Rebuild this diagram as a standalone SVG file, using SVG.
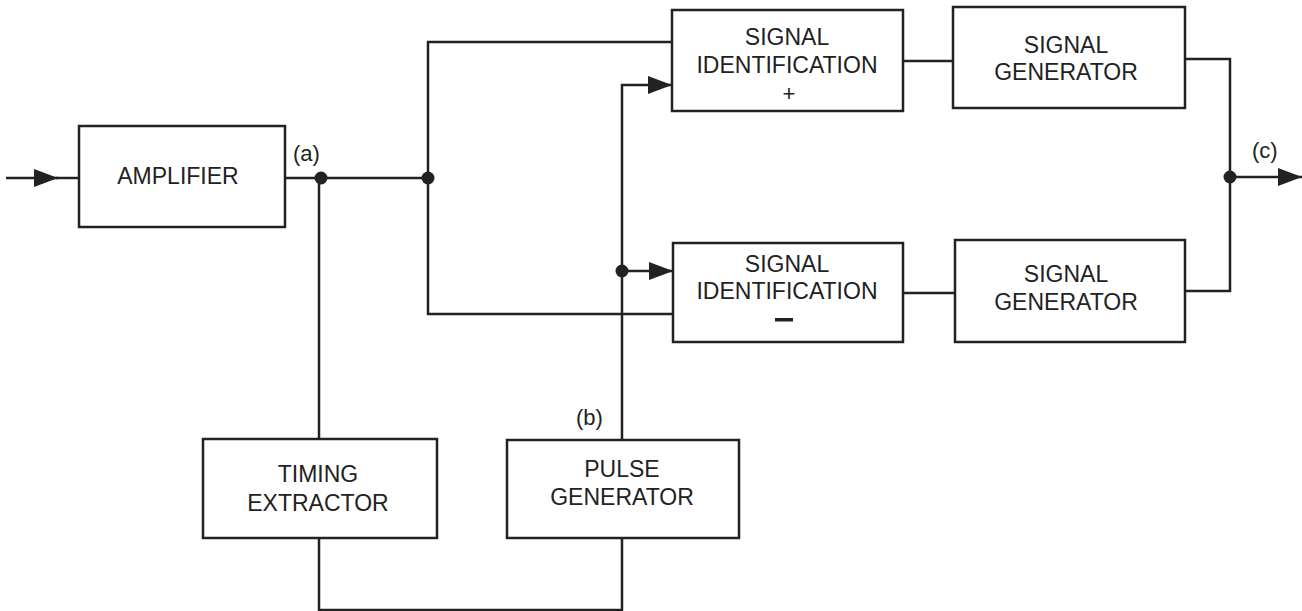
<svg xmlns="http://www.w3.org/2000/svg" width="1302" height="611" viewBox="0 0 1302 611">
<style>
.box{fill:#fff;stroke:#222;stroke-width:2.5}
.ln{fill:none;stroke:#222;stroke-width:2.5}
text{font-family:"Liberation Sans",Arial,sans-serif;font-size:23px;fill:#222;text-anchor:middle}
.lbl{font-size:22px;text-anchor:start}
.dot{fill:#222}
</style>
<defs>
<marker id="arr" viewBox="0 0 24 18" refX="24" refY="9" markerWidth="24" markerHeight="18" markerUnits="userSpaceOnUse" orient="auto">
<path d="M0,0 L24,9 L0,18 z" fill="#222"/>
</marker>
</defs>
<rect width="1302" height="611" fill="#fff"/>
<g id="connectors">
<line class="ln" x1="6" y1="178" x2="58" y2="178" marker-end="url(#arr)"/>
<line class="ln" x1="56" y1="178" x2="79" y2="178"/>
<line class="ln" x1="285" y1="178" x2="428" y2="178"/>
<polyline class="ln" points="672,42 428,42 428,314 673,314"/>
<polyline class="ln" points="319,178 319,439"/>
<polyline class="ln" points="319,538 319,610 622,610 622,538"/>
<polyline class="ln" points="622,440 622,85 672,85" marker-end="url(#arr)"/>
<line class="ln" x1="622" y1="271" x2="673" y2="271" marker-end="url(#arr)"/>
<line class="ln" x1="903" y1="61" x2="953" y2="61"/>
<line class="ln" x1="903" y1="293" x2="955" y2="293"/>
<polyline class="ln" points="1185,59 1230,59 1230,291 1185,291"/>
<line class="ln" x1="1230" y1="177" x2="1302" y2="177" marker-end="url(#arr)"/>
<circle class="dot" cx="321" cy="178" r="6.5"/>
<circle class="dot" cx="428" cy="178" r="6.5"/>
<circle class="dot" cx="622" cy="271" r="6.5"/>
<circle class="dot" cx="1230" cy="177" r="6.5"/>
<text class="lbl" x="293" y="161">(a)</text>
<text class="lbl" x="576" y="425">(b)</text>
<text class="lbl" x="1252" y="158">(c)</text>
</g>
<g id="amplifier">
<rect class="box" x="79" y="126" width="206" height="101"/>
<text x="178" y="184">AMPLIFIER</text>
</g>
<g id="sigid-plus">
<rect class="box" x="672" y="10" width="231" height="101"/>
<text x="787" y="45">SIGNAL</text>
<text x="787" y="73">IDENTIFICATION</text>
<text x="789" y="101" style="font-size:22px">+</text>
</g>
<g id="sigid-minus">
<rect class="box" x="673" y="243" width="230" height="99"/>
<text x="787" y="272">SIGNAL</text>
<text x="787" y="299">IDENTIFICATION</text>
<rect x="775" y="318" width="18" height="3.5" fill="#222"/>
</g>
<g id="siggen-upper">
<rect class="box" x="953" y="7" width="232" height="101"/>
<text x="1066" y="53">SIGNAL</text>
<text x="1066" y="80">GENERATOR</text>
</g>
<g id="siggen-lower">
<rect class="box" x="955" y="240" width="230" height="102"/>
<text x="1066" y="282">SIGNAL</text>
<text x="1066" y="310">GENERATOR</text>
</g>
<g id="timing-extractor">
<rect class="box" x="203" y="439" width="234" height="99"/>
<text x="318" y="482">TIMING</text>
<text x="318" y="511">EXTRACTOR</text>
</g>
<g id="pulse-generator">
<rect class="box" x="507" y="440" width="232" height="98"/>
<text x="622" y="477">PULSE</text>
<text x="622" y="505">GENERATOR</text>
</g>
</svg>
